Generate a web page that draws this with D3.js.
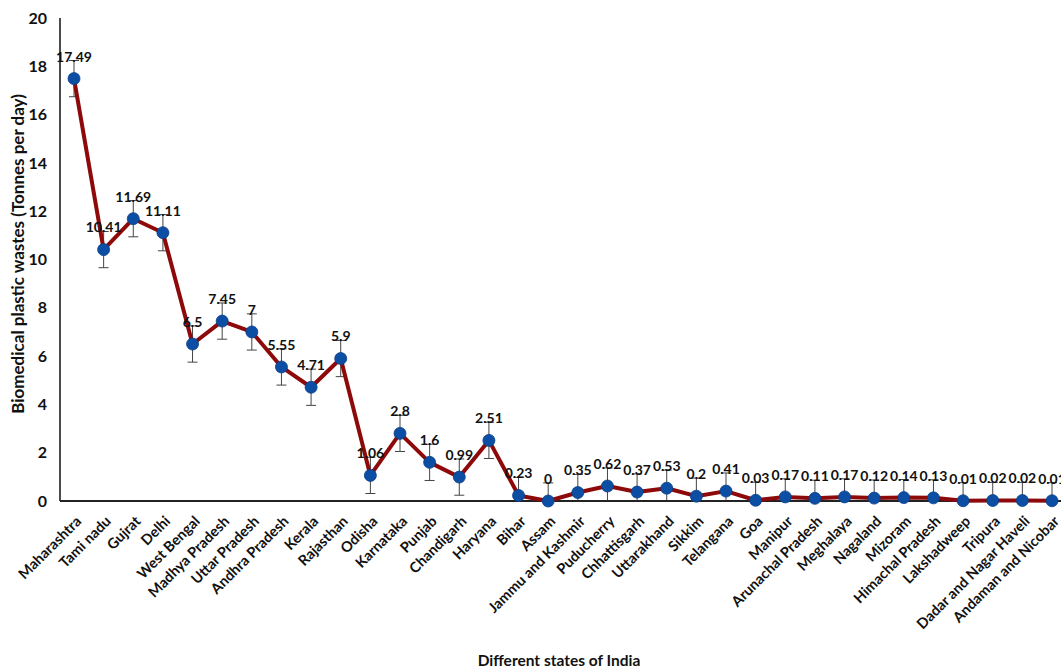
<!DOCTYPE html>
<html><head><meta charset="utf-8">
<script src="https://cdn.jsdelivr.net/npm/d3@7"></script>
<style>body{margin:0;background:#fff}svg{display:block}text{font-family:Lato,"Open Sans",sans-serif;font-weight:bold;fill:#111}</style>
</head><body>
<svg id="c" width="1061" height="668"></svg>
<script>
const categories = ["Maharashtra","Tami nadu","Gujrat","Delhi","West Bengal","Madhya Pradesh","Uttar Pradesh","Andhra Pradesh","Kerala","Rajasthan","Odisha","Karnataka","Punjab","Chandigarh","Haryana","Bihar","Assam","Jammu and Kashmir","Puducherry","Chhattisgarh","Uttarakhand","Sikkim","Telangana","Goa","Manipur","Arunachal Pradesh","Meghalaya","Nagaland","Mizoram","Himachal Pradesh","Lakshadweep","Tripura","Dadar and Nagar Haveli","Andaman and Nicobar"];
const values = [17.49,10.41,11.69,11.11,6.5,7.45,7,5.55,4.71,5.9,1.06,2.8,1.6,0.99,2.51,0.23,0,0.35,0.62,0.37,0.53,0.2,0.41,0.03,0.17,0.11,0.17,0.12,0.14,0.13,0.01,0.02,0.02,0.01];
const errorValue = 0.75;
const yTicks = [0,2,4,6,8,10,12,14,16,18,20];

const svg = d3.select("#c");
const x = d3.scalePoint().domain(categories).range([74,1052]);
const y = d3.scaleLinear().domain([0,20]).range([501,18]);

// y axis
svg.append("line").attr("x1",60).attr("x2",60).attr("y1",18).attr("y2",501).attr("stroke","#111").attr("stroke-width",1.5);
svg.selectAll(".yt").data(yTicks).join("text").attr("x",47).attr("y",d=>y(d)).attr("dy","0.35em")
  .attr("text-anchor","end").style("font-size","16px").text(d=>d);

// error bars
const eb = svg.append("g").attr("stroke","#444").attr("stroke-width",1);
values.forEach((v,i)=>{
  const cx = x(categories[i]);
  const top = y(v+errorValue), bot = y(Math.max(0,v-errorValue));
  eb.append("line").attr("x1",cx).attr("x2",cx).attr("y1",top).attr("y2",bot);
  eb.append("line").attr("x1",cx-5).attr("x2",cx+5).attr("y1",top).attr("y2",top);
  if (v-errorValue>0) eb.append("line").attr("x1",cx-5).attr("x2",cx+5).attr("y1",bot).attr("y2",bot);
});

// x axis
svg.append("line").attr("x1",60).attr("x2",1061).attr("y1",501).attr("y2",501).attr("stroke","#222").attr("stroke-width",2);

// line
const line = d3.line().x((d,i)=>x(categories[i])).y(d=>y(d));
svg.append("path").datum(values).attr("d",line).attr("fill","none").attr("stroke","#8e0a0a").attr("stroke-width",4).attr("stroke-linejoin","round");

// markers
svg.selectAll(".pt").data(values).join("circle").attr("cx",(d,i)=>x(categories[i])).attr("cy",d=>y(d)).attr("r",6)
  .attr("fill","#0c4ea3").attr("stroke","#0a3f86").attr("stroke-width",0.8);

// data labels
svg.selectAll(".lb").data(values).join("text").attr("x",(d,i)=>x(categories[i])).attr("y",d=>y(d)-22).attr("dy","0.35em")
  .attr("text-anchor","middle").style("font-size","14px").text(d=>d);

// x tick labels
svg.selectAll(".xl").data(categories).join("text")
  .attr("transform",d=>`translate(${x(d)+1},${515}) rotate(-45)`)
  .attr("text-anchor","end").attr("dy","0.7em").style("font-size","14.5px").text(d=>d);

// axis titles
svg.append("text").attr("transform","translate(18,254) rotate(-90)").attr("text-anchor","middle").attr("dy","0.35em")
  .style("font-size","17px").text("Biomedical plastic wastes (Tonnes per day)");
svg.append("text").attr("x",559).attr("y",661).attr("text-anchor","middle").attr("dy","0.35em")
  .style("font-size","15.5px").text("Different states of India");
</script>
</body></html>
